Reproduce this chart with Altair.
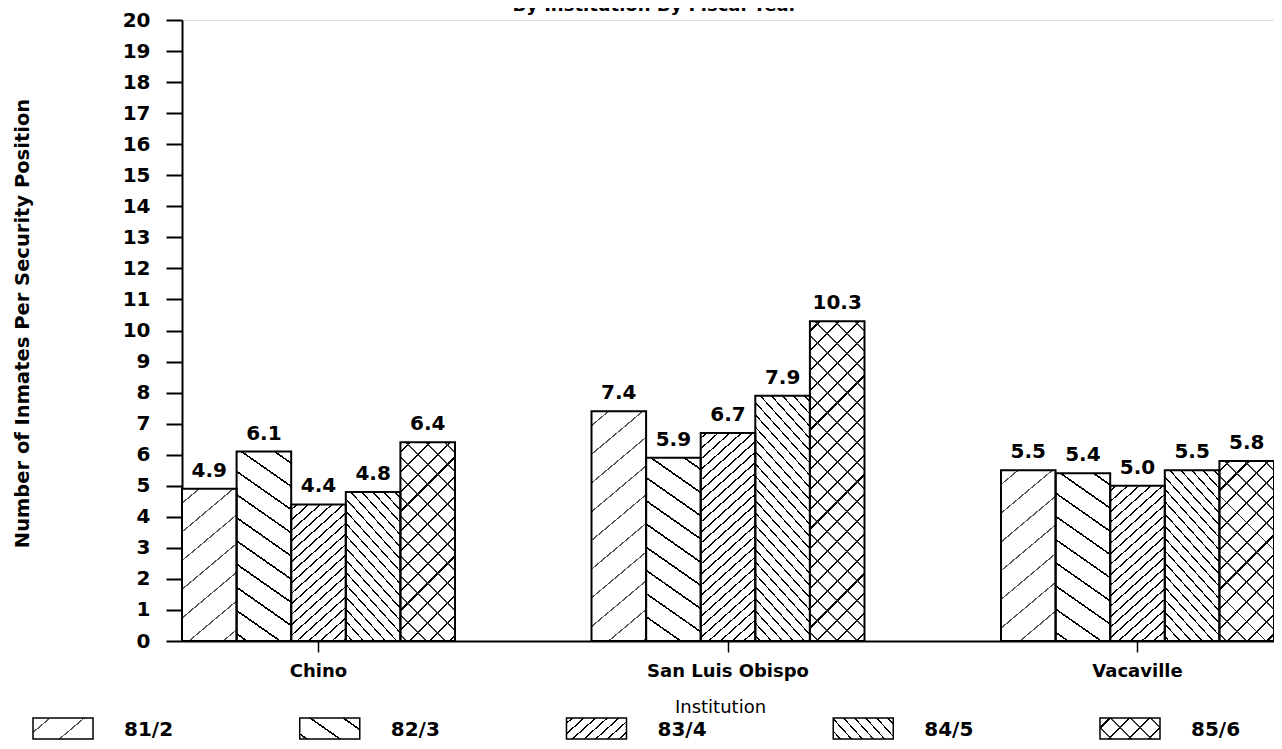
import math
import altair as alt
import pandas as pd

# ---------------- data ----------------
chart_title = "By Institution By Fiscal Year"
institutions = ["Chino", "San Luis Obispo", "Vacaville"]
years = ["81/2", "82/3", "83/4", "84/5", "85/6"]
chino = [4.9, 6.1, 4.4, 4.8, 6.4]
san_luis_obispo = [7.4, 5.9, 6.7, 7.9, 10.3]
vacaville = [5.5, 5.4, 5.0, 5.5, 5.8]
y_ticks = list(range(0, 21))

values_by_inst = {"Chino": chino, "San Luis Obispo": san_luis_obispo, "Vacaville": vacaville}
rows = []
for inst in institutions:
    for yr, v in zip(years, values_by_inst[inst]):
        rows.append({"institution": inst, "year": yr, "value": v})
df = pd.DataFrame(rows)
legend_df = pd.DataFrame({"year": years})
title_df = pd.DataFrame({"t": [chart_title]})

# ---------------- geometry / style ----------------
W, H = 1092, 621
FONT = "DejaVu Sans"
PX_PER_UNIT = H / 20.0
BAR_W = (W / (3 - 1 / 3)) * (2 / 3) / 5

# hatch styles: (angle deg, perpendicular spacing px, line width px, color, mirrored "\")
styles = {
    "81/2": [(40, 22, 1.2, "#555555", False)],
    "82/3": [(35, 19, 1.6, "#000000", True)],
    "83/4": [(42, 7.8, 1.3, "#000000", False)],
    "84/5": [(48, 8.2, 1.2, "#000000", True)],
    "85/6": [(45, 14, 1.6, "#000000", False), (45, 14, 1.4, "#333333", True)],
}


def hatch_gradient(w, h, angle, spacing, lw, color, bg, mirror):
    a = math.radians(angle)
    sa, ca = math.sin(a), math.cos(a)
    P = w * sa + h * ca
    Q = (w * sa) ** 2 + (h * ca) ** 2
    c = P / Q
    dx, dy = w * sa * c, h * ca * c
    stops = [{"offset": 0, "color": bg}]
    pos = spacing / 2
    while pos - lw / 2 < P:
        t0 = max(0.0, (pos - lw / 2) / P)
        t1 = min(1.0, (pos + lw / 2) / P)
        t0, t1 = round(t0, 6), round(t1, 6)
        stops += [
            {"offset": t0, "color": bg},
            {"offset": t0, "color": color},
            {"offset": t1, "color": color},
            {"offset": t1, "color": bg},
        ]
        pos += spacing
    stops.append({"offset": 1, "color": bg})
    if mirror:
        x1, x2 = 1, 1 - dx
    else:
        x1, x2 = 0, dx
    return {"gradient": "linear", "x1": x1, "y1": 0, "x2": x2, "y2": dy, "stops": stops}


x_enc = alt.X(
    "institution:N",
    sort=institutions,
    scale=alt.Scale(domain=institutions, paddingInner=1 / 3, paddingOuter=0),
    axis=alt.Axis(
        title="Institution",
        labelAngle=0,
        labelFont=FONT,
        labelFontSize=18,
        labelFontWeight="bold",
        labelColor="black",
        labelBaseline="top",
        labelPadding=10,
        tickSize=11,
        tickWidth=1.5,
        tickColor="black",
        domainColor="black",
        domainWidth=2,
        titleFont=FONT,
        titleFontSize=18,
        titleFontWeight="normal",
        titleColor="black",
        titleY=66,
        titleX=538,
        titleBaseline="middle",
        titleAlign="center",
        grid=False,
    ),
)
xoff_enc = alt.XOffset("year:N", sort=years, scale=alt.Scale(domain=years, paddingInner=0, paddingOuter=0))
y_enc = alt.Y(
    "value:Q",
    scale=alt.Scale(domain=[0, 20], nice=False),
    axis=alt.Axis(
        title="Number of Inmates Per Security Position",
        values=y_ticks,
        format="d",
        labelFont=FONT,
        labelFontSize=20,
        labelFontWeight="bold",
        labelColor="black",
        labelPadding=16,
        tickSize=16,
        tickWidth=2,
        tickColor="black",
        domainColor="black",
        domainWidth=2,
        titleFont=FONT,
        titleFontSize=19.5,
        titleFontWeight="bold",
        titleColor="black",
        titleAngle=270,
        titleX=-160,
        titleY=303,
        titleAlign="center",
        titleBaseline="middle",
        grid=False,
    ),
)

base = alt.Chart(df)
layers = []
for inst in institutions:
    for yr, v in zip(years, values_by_inst[inst]):
        h = v * PX_PER_UNIT
        for i, (ang, sp, lw, col, mir) in enumerate(styles[yr]):
            bg = "#ffffff" if i == 0 else "rgba(255,255,255,0)"
            grad = hatch_gradient(BAR_W, h, ang, sp, lw, col, bg, mir)
            layers.append(
                base.transform_filter((alt.datum.institution == inst) & (alt.datum.year == yr))
                .mark_bar(fill=grad, strokeWidth=0)
                .encode(x=x_enc, xOffset=xoff_enc, y=y_enc)
            )

outline = base.mark_bar(fillOpacity=0, stroke="black", strokeWidth=2).encode(
    x=x_enc, xOffset=xoff_enc, y=y_enc
)
labels = base.mark_text(
    dy=-12, baseline="alphabetic", font=FONT, fontSize=20, fontWeight="bold", color="black"
).encode(x=x_enc, xOffset=xoff_enc, y=y_enc, text=alt.Text("value:Q", format=".1f"))

main = alt.layer(*layers, outline, labels)

# ---------------- legend ----------------
SW_W, SW_H = 60, 21
SW_Y = 698
lx = alt.X(
    "year:N",
    sort=years,
    scale=alt.Scale(domain=years, range=[-149, 978], paddingInner=0.775, paddingOuter=0),
    axis=None,
)
leg_base = alt.Chart(legend_df)
leg_layers = []
for yr in years:
    for i, (ang, sp, lw, col, mir) in enumerate(styles[yr]):
        bg = "#ffffff" if i == 0 else "rgba(255,255,255,0)"
        grad = hatch_gradient(SW_W, SW_H, ang, sp, lw, col, bg, mir)
        leg_layers.append(
            leg_base.transform_filter(alt.datum.year == yr)
            .mark_rect(fill=grad, strokeWidth=0)
            .encode(x=lx, y=alt.value(SW_Y), y2=alt.value(SW_Y + SW_H))
        )
leg_outline = leg_base.mark_rect(fillOpacity=0, stroke="black", strokeWidth=1.5).encode(
    x=lx, y=alt.value(SW_Y), y2=alt.value(SW_Y + SW_H)
)
leg_text = leg_base.mark_text(
    align="left", baseline="middle", dx=61, font=FONT, fontSize=20, fontWeight="bold", color="black"
).encode(x=lx, y=alt.value(SW_Y + SW_H / 2 + 1), text="year:N")
legend = alt.layer(*leg_layers, leg_outline, leg_text)

# title text, partly cut by the top edge as in the reference
title_mark = alt.Chart(title_df).mark_text(
    align="center", baseline="bottom", font=FONT, fontSize=18, fontWeight="bold", color="black"
).encode(text="t:N", x=alt.value(473), y=alt.value(-5))

chart = (
    alt.layer(main, legend, title_mark)
    .resolve_scale(x="independent")
    .properties(
        width=W,
        height=H,
        autosize=alt.AutoSizeParams(type="none"),
        padding={"left": 174, "top": 12, "right": 0, "bottom": 100},
    )
    .configure_view(stroke="black", strokeWidth=2)
    .configure(background="white")
)

chart.save("out.html", embed_options={"renderer": "svg", "actions": False})
